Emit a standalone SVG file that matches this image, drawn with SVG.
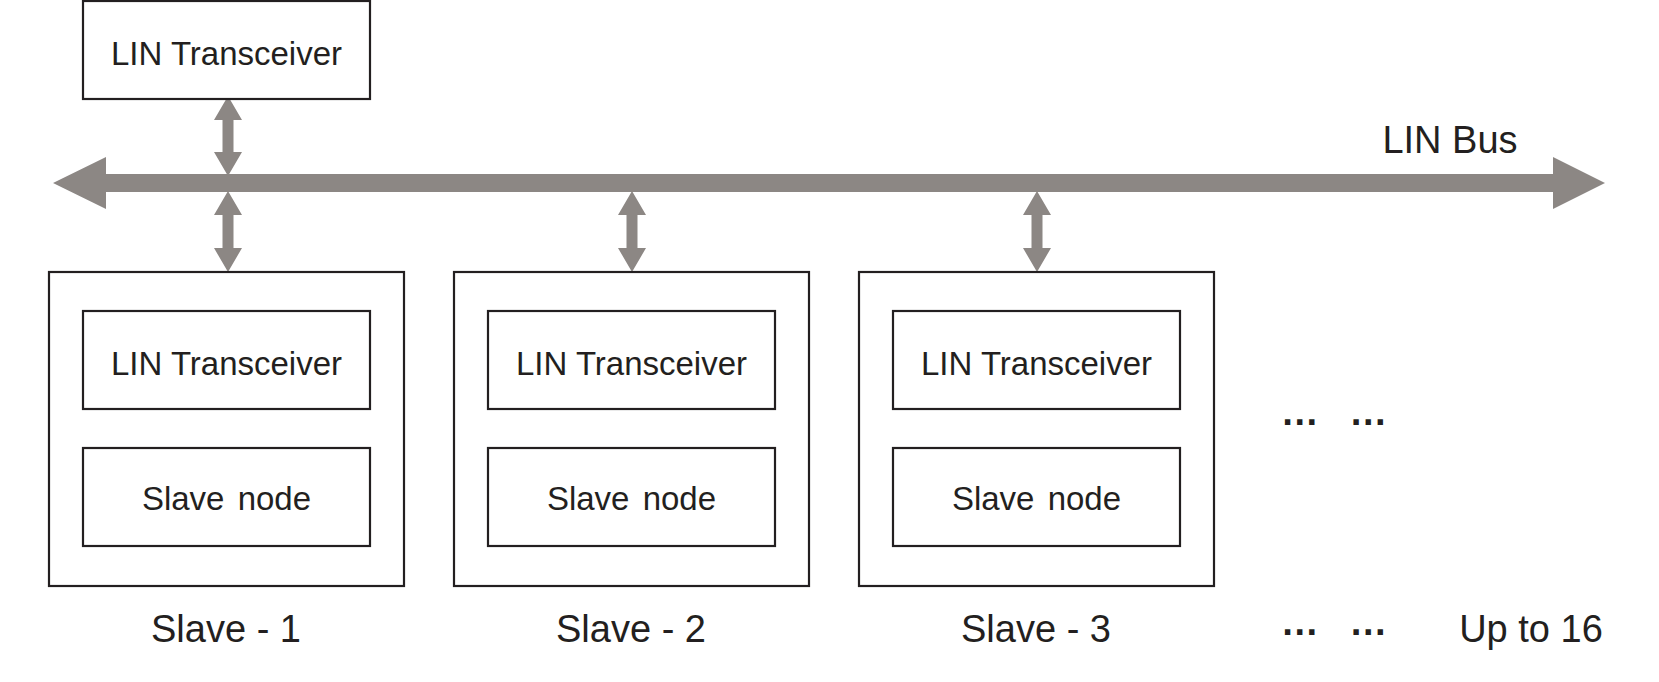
<svg xmlns="http://www.w3.org/2000/svg" width="1659" height="682" viewBox="0 0 1659 682">
<style>
.box{fill:#fff;stroke:#231f20;stroke-width:2.2}
.t{font-family:"Liberation Sans",Arial,sans-serif;fill:#231f20;text-anchor:middle}
.s{font-size:33px}
.l{font-size:38px}
.d{font-weight:bold}
.arr{fill:#8c8784}
</style>
<rect width="1659" height="682" fill="#fff"/>
<g id="connectors">
<polygon class="arr" points="53,183 106,157 106,174 1553,174 1553,157 1605,183 1553,209 1553,192 106,192 106,209"/>
<polygon class="arr" points="228,96 242,120 233.5,120 233.5,152 242,152 228,176 214,152 222.5,152 222.5,120 214,120"/>
<polygon class="arr" points="228,191 242,215 233.5,215 233.5,248 242,248 228,272 214,248 222.5,248 222.5,215 214,215"/>
<polygon class="arr" points="632,191 646,215 637.5,215 637.5,248 646,248 632,272 618,248 626.5,248 626.5,215 618,215"/>
<polygon class="arr" points="1037,191 1051,215 1042.5,215 1042.5,248 1051,248 1037,272 1023,248 1031.5,248 1031.5,215 1023,215"/>
</g>
<g id="master">
<rect class="box" x="83" y="1" width="287" height="98"/>
<text class="t s" x="226.5" y="65">LIN Transceiver</text>
</g>
<text id="bus-label" class="t l" x="1450" y="153">LIN Bus</text>
<g id="slave1">
<rect class="box" x="49" y="272" width="355" height="314"/>
<rect class="box" x="83" y="311" width="287" height="98"/>
<text class="t s" x="226.5" y="375">LIN Transceiver</text>
<rect class="box" x="83" y="448" width="287" height="98"/>
<text class="t s" x="226.5" y="510" word-spacing="4">Slave node</text>
<text class="t l" x="226" y="642">Slave - 1</text>
</g>
<g id="slave2">
<rect class="box" x="454" y="272" width="355" height="314"/>
<rect class="box" x="488" y="311" width="287" height="98"/>
<text class="t s" x="631.5" y="375">LIN Transceiver</text>
<rect class="box" x="488" y="448" width="287" height="98"/>
<text class="t s" x="631.5" y="510" word-spacing="4">Slave node</text>
<text class="t l" x="631" y="642">Slave - 2</text>
</g>
<g id="slave3">
<rect class="box" x="859" y="272" width="355" height="314"/>
<rect class="box" x="893" y="311" width="287" height="98"/>
<text class="t s" x="1036.5" y="375">LIN Transceiver</text>
<rect class="box" x="893" y="448" width="287" height="98"/>
<text class="t s" x="1036.5" y="510" word-spacing="4">Slave node</text>
<text class="t l" x="1036" y="642">Slave - 3</text>
</g>
<g id="more">
<text class="t l d" x="1334" y="425" word-spacing="20">… …</text>
<text class="t l d" x="1334" y="635" word-spacing="20">… …</text>
<text class="t l" x="1531" y="642">Up to 16</text>
</g>
</svg>
